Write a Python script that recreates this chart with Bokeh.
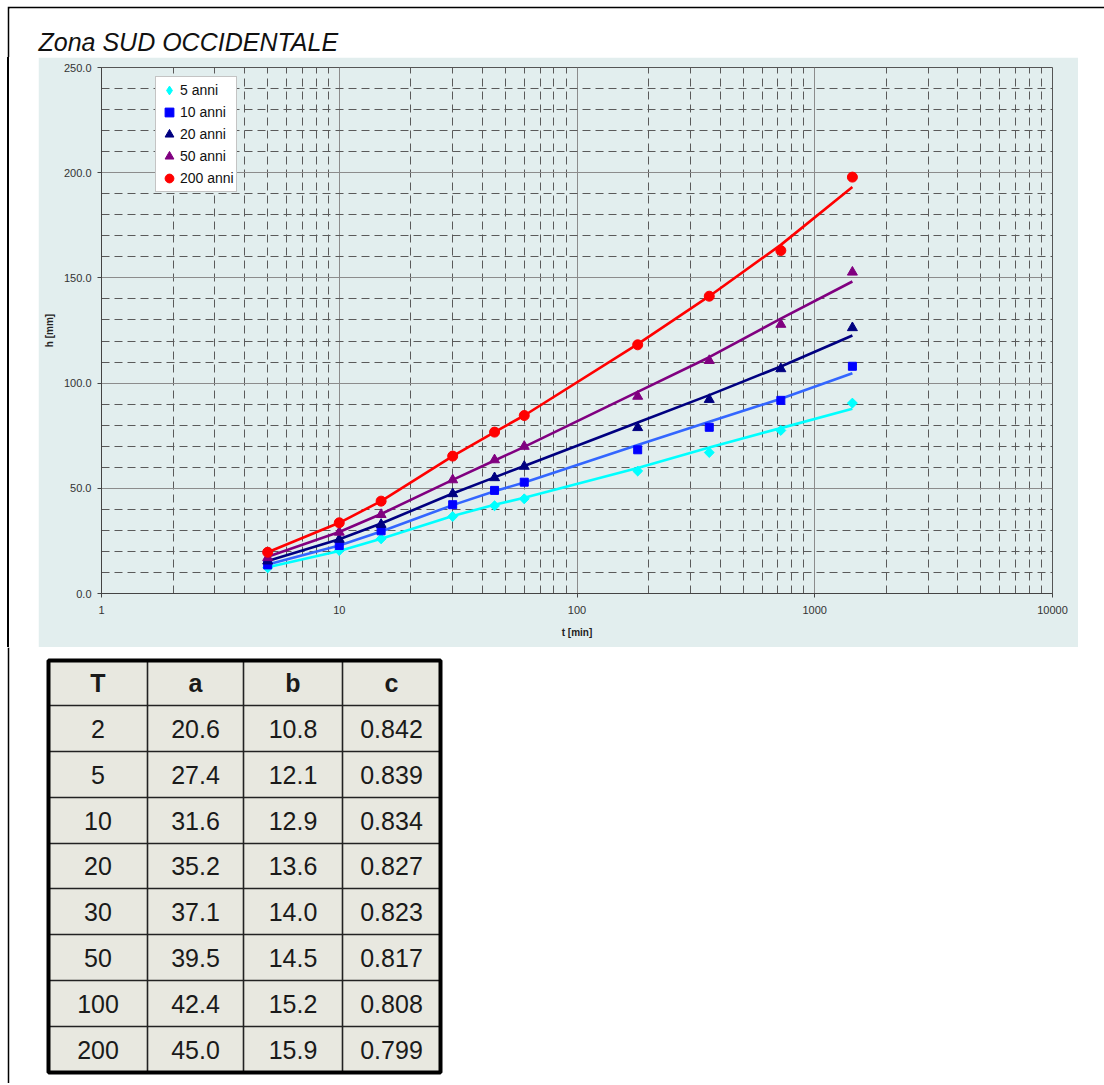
from bokeh.plotting import figure
from bokeh.models import (Range1d, FixedTicker, SingleIntervalTicker, NumeralTickFormatter,
                          CustomJSTickFormatter, Legend, LegendItem, Label, Div)
from bokeh.layouts import column, row
from bokeh.embed import file_html
from bokeh.resources import INLINE
from bokeh.core.properties import value
import math

# ---------------- data ----------------
durations = [5, 10, 15, 30, 45, 60, 180, 360, 720, 1440]

obs_5 = [12.2, 20.4, 26.0, 36.6, 41.7, 45.0, 58.2, 67.0, 77.5, 90.5]
obs_10 = [13.6, 22.8, 29.8, 42.2, 49.0, 52.9, 68.3, 79.0, 91.8, 108.0]
obs_20 = [15.4, 25.7, 32.8, 47.4, 55.0, 60.4, 78.8, 92.2, 106.8, 126.3]
obs_50 = [17.0, 29.1, 37.5, 54.0, 63.5, 69.9, 93.7, 110.7, 127.9, 152.7]
obs_200 = [19.6, 33.6, 43.9, 65.3, 76.7, 84.6, 118.2, 141.3, 163.0, 197.9]

fit_5 = [12.5, 20.2, 26.0, 36.8, 42.2, 45.5, 59.7, 69.4, 78.6, 87.8]
fit_10 = [13.8, 22.8, 29.5, 42.0, 48.6, 52.8, 70.6, 81.6, 92.6, 104.7]
fit_20 = [15.5, 25.8, 33.3, 47.5, 55.2, 60.6, 81.3, 94.3, 107.9, 122.6]
fit_50 = [17.5, 29.2, 37.8, 54.0, 63.2, 69.7, 95.8, 112.3, 130.6, 148.3]
fit_200 = [19.6, 33.6, 43.9, 65.3, 76.7, 84.6, 118.5, 141.3, 165.7, 193.2]

series_labels = ["5 anni", "10 anni", "20 anni", "50 anni", "200 anni"]

x_tick_values = [1, 10, 100, 1000, 10000]

table_header = ["T", "a", "b", "c"]
T_vals = [2, 5, 10, 20, 30, 50, 100, 200]
a_vals = [20.6, 27.4, 31.6, 35.2, 37.1, 39.5, 42.4, 45.0]
b_vals = [10.8, 12.1, 12.9, 13.6, 14.0, 14.5, 15.2, 15.9]
c_vals = [0.842, 0.839, 0.834, 0.827, 0.823, 0.817, 0.808, 0.799]

FONT = "Liberation Sans"
BG = "#e2eeee"

# ---------------- title strip ----------------
tfig = figure(width=1097, height=51, x_range=Range1d(0, 1095), y_range=Range1d(49, 0),
              title=None,
              min_border=0, min_border_top=2, min_border_left=2,
              border_fill_color="black", background_fill_color="white",
              outline_line_color=None, toolbar_location=None, output_backend="svg",
              x_axis_location=None, y_axis_location=None)
tfig.grid.visible = False
tfig.add_layout(Label(x=29, y=33, text="Zona SUD OCCIDENTALE", text_font=FONT,
                      text_font_style="italic", text_font_size="25px",
                      text_baseline="middle", text_color="#111111"))

# ---------------- left spacer with border ----------------
spacer = Div(width=31, height=590, text="", margin=0,
             styles={"background-color": "white", "border-left": "2px solid black",
                     "box-sizing": "border-box"})

# ---------------- chart ----------------
p = figure(width=1040, height=590, x_axis_type="log",
           x_range=Range1d(1, 10000), y_range=Range1d(0, 250),
           min_border_left=63, min_border_right=26, min_border_top=10, min_border_bottom=54,
           background_fill_color=BG, border_fill_color=BG,
           outline_line_color="#555555", outline_line_width=1,
           toolbar_location=None, output_backend="svg")

minor_x = [m * 10 ** k for k in range(4) for m in range(2, 10)]
xt = FixedTicker(ticks=x_tick_values, minor_ticks=minor_x)
p.xaxis.ticker = xt
p.xgrid.ticker = xt
p.xaxis.formatter = CustomJSTickFormatter(code="return tick.toFixed(0)")

yt = SingleIntervalTicker(interval=50, num_minor_ticks=5)
p.yaxis.ticker = yt
p.ygrid.ticker = yt
p.yaxis.formatter = NumeralTickFormatter(format="0.0")

for g in (p.xgrid, p.ygrid):
    g.grid_line_color = "#8c8c8c"
    g.grid_line_width = 1
    g.minor_grid_line_color = "#5a5a5a"
    g.minor_grid_line_dash = "8 5"
    g.minor_grid_line_width = 1

for ax in (p.xaxis, p.yaxis):
    ax.axis_line_color = "#444444"
    ax.major_tick_line_color = "#444444"
    ax.major_tick_out = 4
    ax.major_tick_in = 0
    ax.minor_tick_line_color = None
    ax.major_label_text_font = FONT
    ax.major_label_text_font_size = "11px"
    ax.major_label_text_color = "#333333"
    ax.axis_label_text_font = FONT
    ax.axis_label_text_font_size = "10px"
    ax.axis_label_text_font_style = "bold"
    ax.axis_label_text_color = "#222222"

p.xaxis.axis_label = "t [min]"
p.yaxis.axis_label = "h [mm]"
p.xaxis.major_label_standoff = 8
p.xaxis.axis_label_standoff = 10
p.yaxis.major_label_standoff = 6
p.yaxis.axis_label_standoff = 6

line_colors = ["#00ffff", "#3366ff", "#000080", "#800080", "#ff0000"]
marker_colors = ["#00ffff", "#0000ff", "#000080", "#800080", "#ff0000"]
legend_markers = ["diamond", "square", "triangle", "triangle", "circle"]
sizes = [9, 8, 10, 10, 10]
fits = [fit_5, fit_10, fit_20, fit_50, fit_200]
obs = [obs_5, obs_10, obs_20, obs_50, obs_200]

for fit, col in zip(fits, line_colors):
    p.line(durations, fit, line_color=col, line_width=2.6)

items = []
for i, (lab, ob, col, mk, sz) in enumerate(zip(series_labels, obs, marker_colors,
                                               legend_markers, sizes)):
    r = p.scatter(durations, ob, marker=mk, size=sz, fill_color=col, line_color=col)
    if i == 0:
        # squarer diamond on top (rotated square), matching the reference marker
        p.scatter(durations, ob, marker="square", angle=math.pi / 4, size=7,
                  fill_color=col, line_color=col)
    items.append(LegendItem(label=lab, renderers=[r]))

legend = Legend(items=items, location=(54, 401), padding=2, margin=0, spacing=0,
                glyph_width=22, glyph_height=22, label_height=22, label_standoff=0,
                label_text_font=FONT, label_text_font_size="14px", label_text_color="#111111",
                border_line_color="#8a8a8a", border_line_width=1,
                background_fill_color="white", background_fill_alpha=1.0)
p.add_layout(legend)

# ---------------- table ----------------
XO, YO = 9, 647
col_edges = [48, 147, 243, 342, 440]
row_edges = [660, 705, 751, 797, 843, 888, 934, 980, 1026, 1072]
cx = [(col_edges[i] + col_edges[i + 1]) / 2 - XO for i in range(4)]
cy = [(row_edges[i] + row_edges[i + 1]) / 2 - YO for i in range(9)]

tab = figure(width=1097, height=436, x_range=Range1d(0, 1095), y_range=Range1d(436, 0),
             title=None,
             min_border=0, min_border_left=2,
             border_fill_color="black", background_fill_color="white",
             outline_line_color=None, toolbar_location=None, output_backend="svg",
             x_axis_location=None, y_axis_location=None)
tab.grid.visible = False

L, R = col_edges[0] - XO, col_edges[-1] - XO
TOP, BOT = row_edges[0] - YO, row_edges[-1] - YO
tab.quad(left=[L], right=[R], top=[TOP], bottom=[BOT], fill_color="#e8e8e0", line_color=None)
tab.segment(x0=[c - XO for c in col_edges[1:-1]], x1=[c - XO for c in col_edges[1:-1]],
            y0=[TOP] * 3, y1=[BOT] * 3, line_color="#222222", line_width=1.6)
tab.segment(x0=[L] * 8, x1=[R] * 8,
            y0=[r - YO for r in row_edges[1:-1]], y1=[r - YO for r in row_edges[1:-1]],
            line_color="#222222", line_width=1.6)
tab.quad(left=[L], right=[R], top=[TOP], bottom=[BOT], fill_color=None,
         line_color="black", line_width=4)

tab.text(x=cx, y=[cy[0]] * 4, text=table_header, text_align="center", text_baseline="middle",
         text_font=value(FONT), text_font_size="25px", text_font_style="bold", text_color="#1a1a1a")

body_x, body_y, body_t = [], [], []
for i in range(len(T_vals)):
    vals = [f"{T_vals[i]}", f"{a_vals[i]:.1f}", f"{b_vals[i]:.1f}", f"{c_vals[i]:.3f}"]
    for j, v in enumerate(vals):
        body_x.append(cx[j])
        body_y.append(cy[i + 1])
        body_t.append(v)
tab.text(x=body_x, y=body_y, text=body_t, text_align="center", text_baseline="middle",
         text_font=value(FONT), text_font_size="25px", text_color="#1a1a1a")

layout = column(tfig, row(spacer, p), tab, margin=(6, 0, 0, 7))

open("out.html", "w").write(file_html(layout, INLINE))
